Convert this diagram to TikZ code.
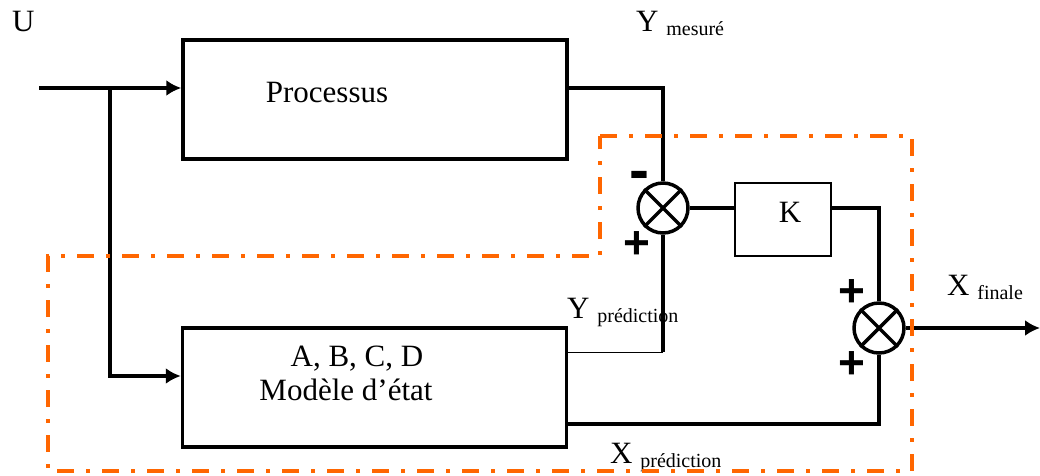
\documentclass[tikz,border=0pt]{standalone}
\usepackage{fontspec}
\setmainfont{Liberation Serif}
\newfontfamily\signfont{Liberation Sans}
\usetikzlibrary{arrows.meta, positioning}
\definecolor{estOrange}{HTML}{FF6600}
\newcommand{\lbsub}[1]{\raisebox{-4pt}{\fontsize{20}{22}\selectfont #1}}

\begin{document}
\begin{tikzpicture}[x=1pt, y=-1pt, font=\fontsize{31}{34}\selectfont,
        block/.style={draw, line width=3.5pt, minimum width=384pt, minimum height=119pt, inner sep=0pt},
        gainbox/.style={draw, line width=2pt, minimum width=96pt, minimum height=73pt, inner sep=0pt},
        sumj/.style={draw, circle, line width=3.5pt, minimum size=50pt, inner sep=0pt},
        sig/.style={line width=3.5pt},
        arr/.style={-{Latex[length=15pt, width=16pt]}, line width=3.5pt},
        lbl/.style={anchor=base west, inner sep=0pt},
        sign/.style={inner sep=0pt, font=\signfont\bfseries\fontsize{46}{46}\selectfont},
        est/.style={estOrange, line width=4pt, dash pattern=on 17pt off 12pt on 4pt off 12pt}]
        \useasboundingbox (0,0) rectangle (1040,475);
        % blocs
        \node[block, label={[xshift=-48pt, yshift=7pt]center:Processus}] (proc) at (375,99.5) {};
        \node[block, label={[align=center, xshift=-28.5pt, yshift=14.5pt]center:\hspace*{22pt}A, B, C, D\\Modèle d'état}] (model) at (374.5,387.5) {};
        \node[sumj] (s1) at (663,208) {};
        \node[sumj] (s2) at (879,328) {};
        \node[gainbox, label={[xshift=7pt, yshift=7pt]center:K}] (gain) at (783,219.5) {};
        \foreach \s in {s1,s2}
          \draw[sig] (\s.45) -- (\s.225) (\s.135) -- (\s.315);
        % points
        \coordinate (u) at (39,88);
        \coordinate (ub) at (110,376);
        \coordinate (yp) at (663,352);
        \coordinate (xp) at (879,424);
        \coordinate (xout) at (1040,328);
        % liaisons
        \draw[arr] (u) -- (u -| proc.west);
        \draw[arr] (u -| ub) |- (ub -| model.west);
        \draw[sig] (proc.east |- u) -| (s1.north);
        \draw[line width=1pt] (yp -| model.east) -- (yp);
        \draw[sig] (yp) -- (s1.south);
        \draw[sig] (s1.east) -- (s1.east -| gain.west);
        \draw[sig] (gain.east |- s1) -| (s2.north);
        \draw[sig] (model.east |- xp) -| (s2.south);
        \draw[arr] (s2.east) -- (xout);
        % signes
        \node[sign, font=\signfont\bfseries\fontsize{60}{60}\selectfont] (m1) at (639,181) {-};
        \node[sign] (p1) at (637,245) {+};
        \node[sign] (p2) at (852,293) {+};
        \node[sign] (p3) at (852,365) {+};
        % textes
        \node[lbl] (lu) at (12,31) {U};
        \node[lbl] (lym) at (636,31) {Y \lbsub{mesuré}};
        \node[lbl] (lyp) at (567,318) {Y \lbsub{prédiction}};
        \node[lbl] (lxf) at (947,295) {X \lbsub{finale}};
        \node[lbl] (lxp) at (610,463) {X \lbsub{prédiction}};
        % estimateur
        \draw[est] (600,136) -- (912,136) -- (912,471) -- (48,471) -- (48,256) -- (600,256) -- cycle;
      \end{tikzpicture}
\end{document}
